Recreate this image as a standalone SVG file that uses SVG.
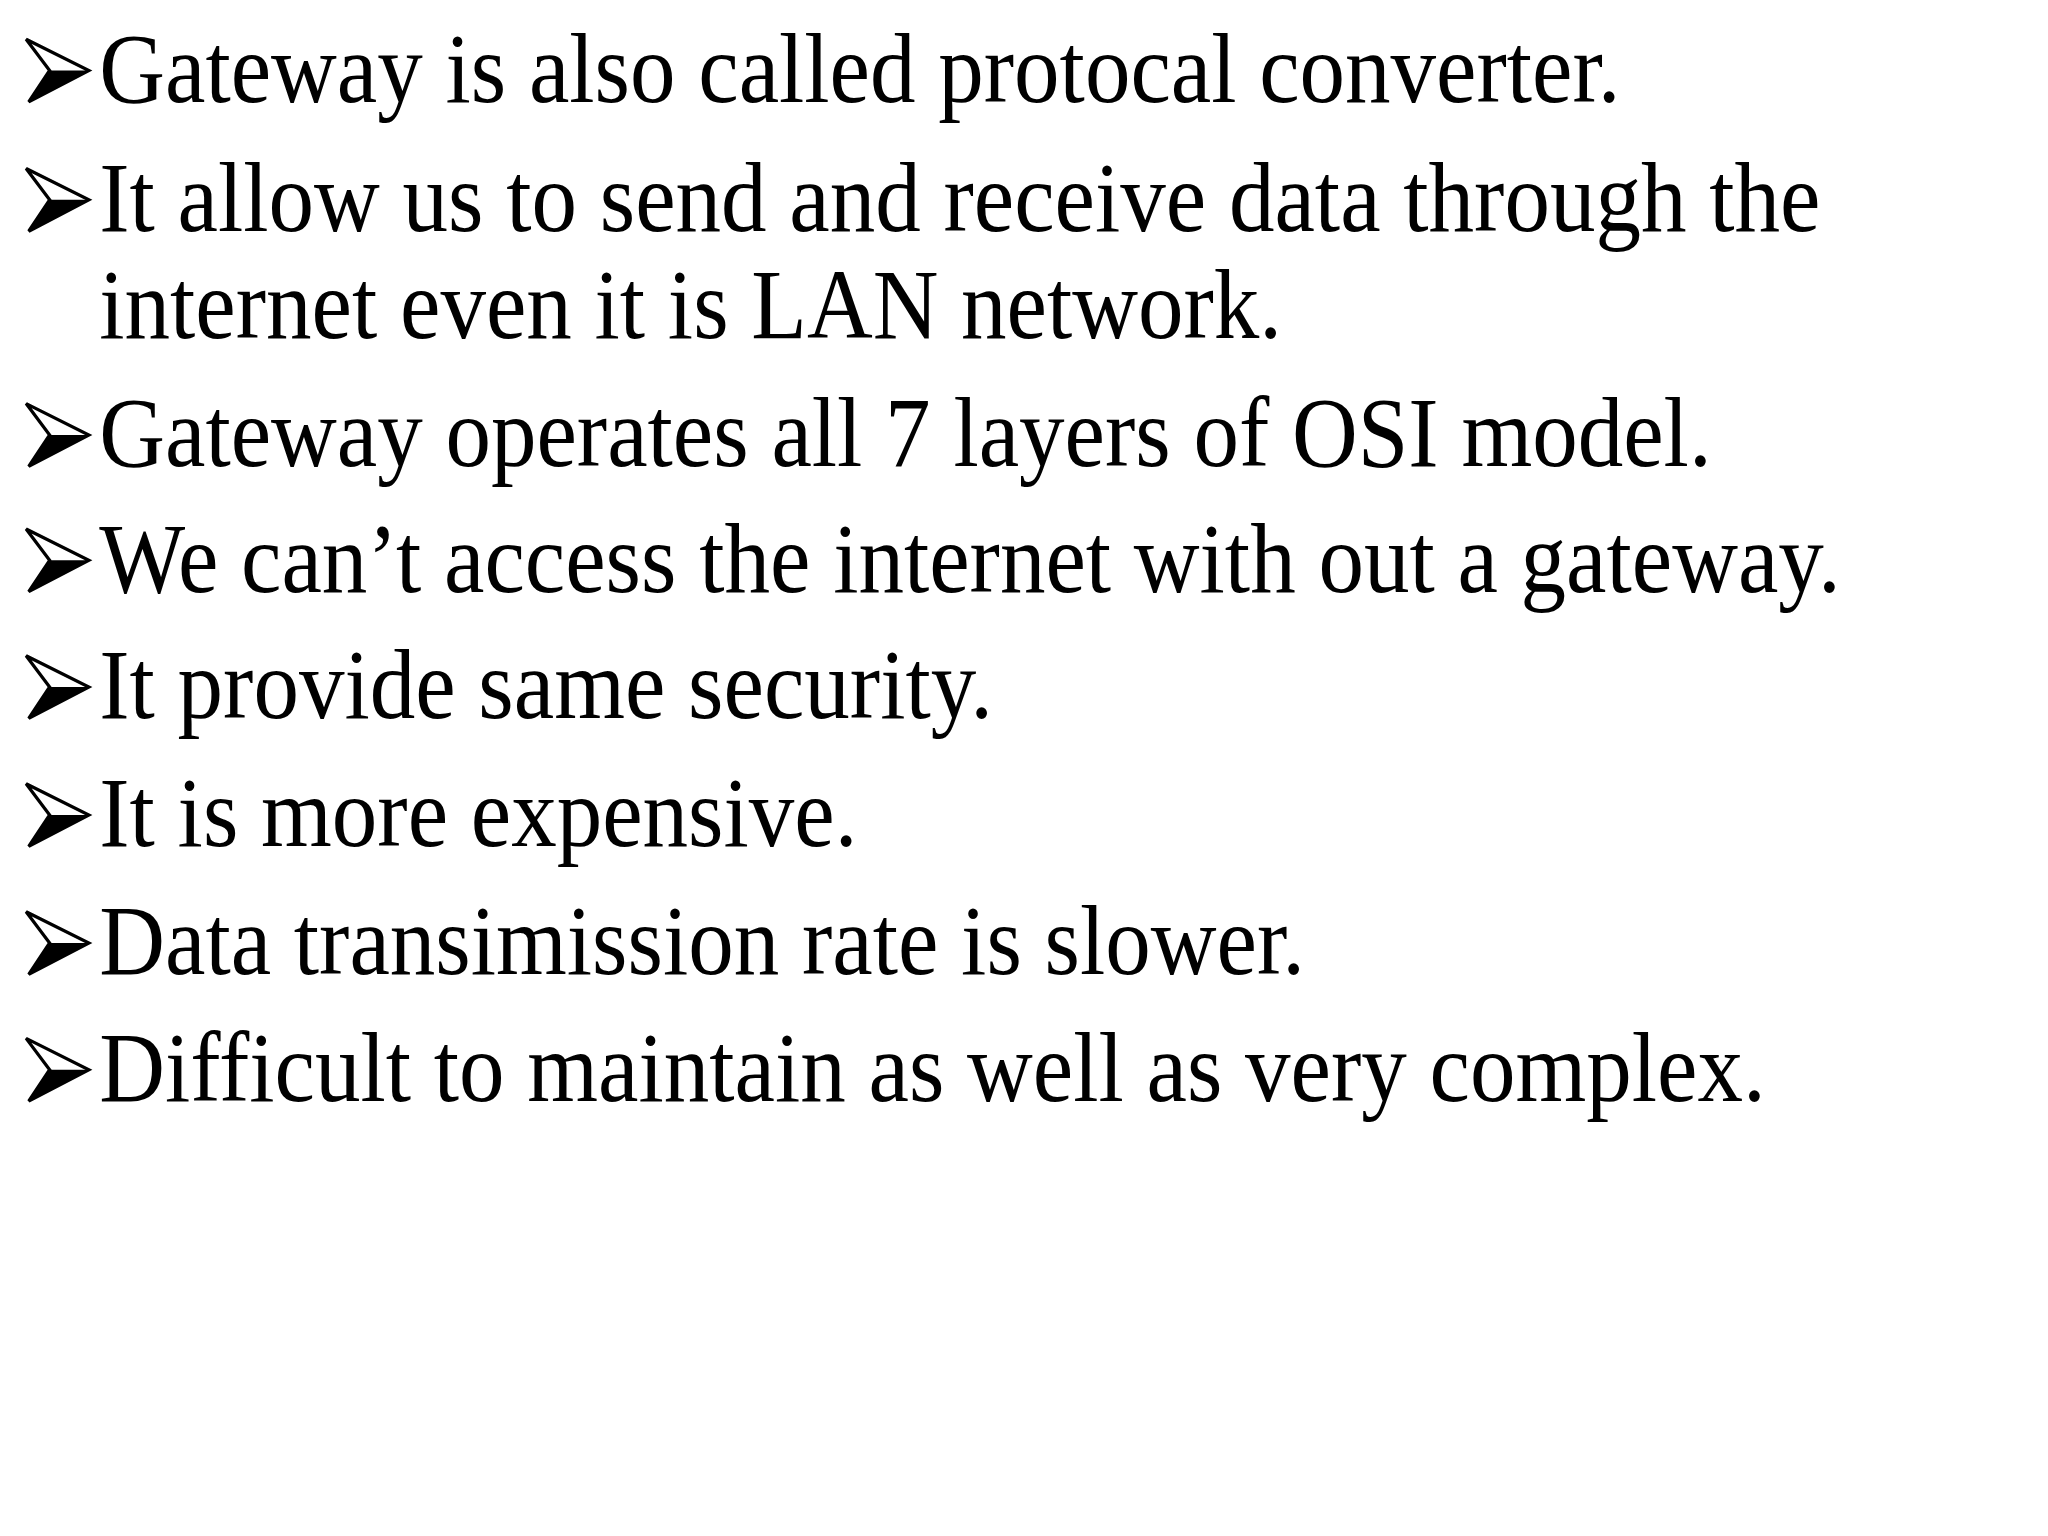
<svg xmlns="http://www.w3.org/2000/svg" width="2048" height="1536" viewBox="0 0 2048 1536">
<defs>
<g id="arr">
<polygon points="0,0 48,24 2,48 18,24" fill="#fff" stroke="#000" stroke-width="2.5" stroke-linejoin="miter"/>
<polygon points="18,24 48,24 2,48" fill="#000"/>
</g>
<style>text{font-family:"Liberation Serif","Times New Roman",serif;font-size:76px;fill:#000}</style>
</defs>
<rect width="2048" height="1536" fill="#fff"/>
<g transform="scale(1.30612)">
<g id="b1"><use href="#arr" x="20" y="30"/><text transform="translate(76 78) scale(0.917 1)">Gateway is also called protocal converter.</text></g>
<g id="b2"><use href="#arr" x="20" y="129"/><text transform="translate(76 177) scale(0.917 1)">It allow us to send and receive data through the</text><text transform="translate(76 259) scale(0.917 1)">internet even it is LAN network.</text></g>
<g id="b3"><use href="#arr" x="20" y="309"/><text transform="translate(76 357) scale(0.917 1)">Gateway operates all 7 layers of OSI model.</text></g>
<g id="b4"><use href="#arr" x="20" y="405"/><text transform="translate(76 453) scale(0.917 1)">We can’t access the internet with out a gateway.</text></g>
<g id="b5"><use href="#arr" x="20" y="502"/><text transform="translate(76 550) scale(0.917 1)">It provide same security.</text></g>
<g id="b6"><use href="#arr" x="20" y="600"/><text transform="translate(76 648) scale(0.917 1)">It is more expensive.</text></g>
<g id="b7"><use href="#arr" x="20" y="698"/><text transform="translate(76 746) scale(0.917 1)">Data transimission rate is slower.</text></g>
<g id="b8"><use href="#arr" x="20" y="795"/><text transform="translate(76 843) scale(0.917 1)">Difficult to maintain as well as very complex.</text></g>
</g>
</svg>
